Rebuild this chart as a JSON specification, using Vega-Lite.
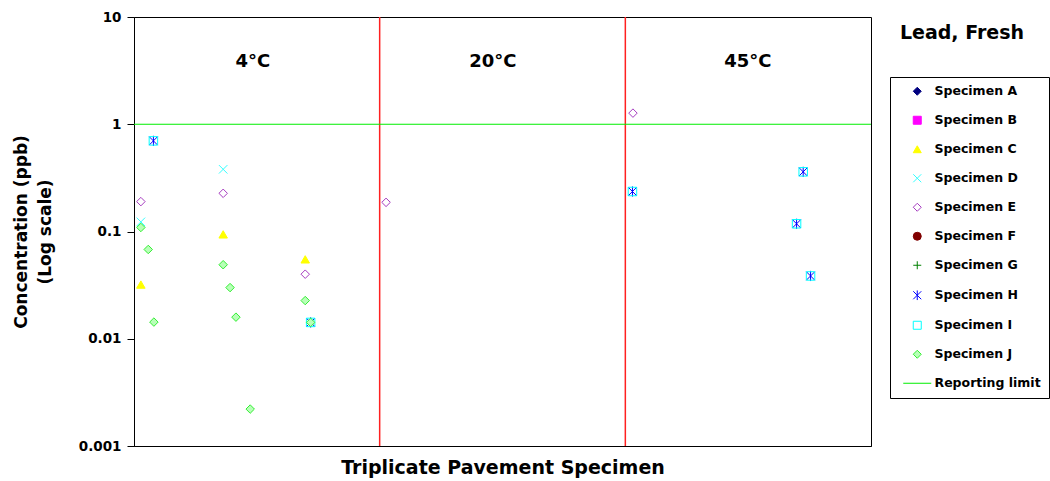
{
  "$schema": "https://vega.github.io/schema/vega-lite/v6.json",
  "width": 737,
  "height": 429,
  "autosize": "none",
  "padding": {"left": 134, "top": 17, "right": 179, "bottom": 35},
  "background": "white",
  "title": {
    "text": "Lead, Fresh",
    "anchor": "end",
    "frame": "group",
    "font": "DejaVu Sans",
    "fontWeight": "bold",
    "fontSize": 19,
    "color": "#000",
    "baseline": "alphabetic",
    "offset": 0,
    "dx": 153,
    "dy": 48
  },
  "config": {
    "font": "DejaVu Sans",
    "view": {"stroke": "#000", "strokeWidth": 1},
    "axis": {
      "grid": false,
      "domainColor": "#000",
      "tickColor": "#000",
      "labelFont": "DejaVu Sans",
      "labelFontWeight": "bold",
      "labelFontSize": 13.5,
      "labelColor": "#000",
      "titleFont": "DejaVu Sans",
      "titleFontWeight": "bold",
      "titleColor": "#000"
    }
  },
  "datasets": {
    "dividers": [{"x": 1}, {"x": 2}],
    "limit": [{"y": 1}],
    "temps": [
      {"x": 0.484, "y": 3.83, "label": "4°C"},
      {"x": 1.461, "y": 3.83, "label": "20°C"},
      {"x": 2.499, "y": 3.83, "label": "45°C"}
    ],
    "lead": [
      {"specimen": "Specimen C", "x": 0.363, "y": 0.094},
      {"specimen": "Specimen C", "x": 0.697, "y": 0.055},
      {"specimen": "Specimen C", "x": 0.028, "y": 0.032},
      {"specimen": "Specimen D", "x": 0.363, "y": 0.38},
      {"specimen": "Specimen D", "x": 0.028, "y": 0.123},
      {"specimen": "Specimen E", "x": 0.363, "y": 0.227},
      {"specimen": "Specimen E", "x": 0.028, "y": 0.19},
      {"specimen": "Specimen E", "x": 0.697, "y": 0.04},
      {"specimen": "Specimen E", "x": 1.026, "y": 0.187},
      {"specimen": "Specimen E", "x": 2.031, "y": 1.27},
      {"specimen": "Specimen H", "x": 0.079, "y": 0.7},
      {"specimen": "Specimen H", "x": 0.719, "y": 0.0142},
      {"specimen": "Specimen H", "x": 2.029, "y": 0.236},
      {"specimen": "Specimen H", "x": 2.724, "y": 0.36},
      {"specimen": "Specimen H", "x": 2.697, "y": 0.118},
      {"specimen": "Specimen H", "x": 2.754, "y": 0.0385},
      {"specimen": "Specimen I", "x": 0.079, "y": 0.7},
      {"specimen": "Specimen I", "x": 0.719, "y": 0.0142},
      {"specimen": "Specimen I", "x": 2.029, "y": 0.236},
      {"specimen": "Specimen I", "x": 2.724, "y": 0.36},
      {"specimen": "Specimen I", "x": 2.697, "y": 0.118},
      {"specimen": "Specimen I", "x": 2.754, "y": 0.0385},
      {"specimen": "Specimen J", "x": 0.028, "y": 0.109},
      {"specimen": "Specimen J", "x": 0.058, "y": 0.068},
      {"specimen": "Specimen J", "x": 0.363, "y": 0.049},
      {"specimen": "Specimen J", "x": 0.391, "y": 0.03},
      {"specimen": "Specimen J", "x": 0.697, "y": 0.0227},
      {"specimen": "Specimen J", "x": 0.081, "y": 0.0143},
      {"specimen": "Specimen J", "x": 0.415, "y": 0.0159},
      {"specimen": "Specimen J", "x": 0.719, "y": 0.0142},
      {"specimen": "Specimen J", "x": 0.473, "y": 0.00221}
    ]
  },
  "layer": [
    {
      "data": {"name": "dividers"},
      "mark": {"type": "rule", "color": "#ff2020", "strokeWidth": 1.5},
      "encoding": {
        "x": {
          "field": "x",
          "type": "quantitative",
          "scale": {"domain": [0, 3], "nice": false, "zero": false},
          "axis": {"title": "Triplicate Pavement Specimen", "labels": false, "ticks": false, "titleFontSize": 19, "titlePadding": 12}
        }
      }
    },
    {
      "data": {"name": "limit"},
      "mark": {"type": "rule", "color": "#00ee00", "strokeWidth": 1},
      "encoding": {
        "y": {
          "field": "y",
          "type": "quantitative",
          "scale": {"type": "log", "domain": [0.001, 10], "nice": false},
          "axis": {"title": ["Concentration (ppb)", "(Log scale)"], "values": [0.001, 0.01, 0.1, 1, 10], "format": "~g", "tickSize": 7, "labelPadding": 6, "titleFontSize": 17, "titleLineHeight": 24, "titlePadding": 24}
        }
      }
    },
    {
      "data": {"name": "lead"},
      "mark": {"type": "point", "opacity": 1, "strokeWidth": 1, "size": 72},
      "encoding": {
        "x": {
          "field": "x",
          "type": "quantitative",
          "scale": {"domain": [0, 3], "nice": false, "zero": false},
          "axis": {"title": "Triplicate Pavement Specimen", "labels": false, "ticks": false, "titleFontSize": 19, "titlePadding": 12}
        },
        "y": {
          "field": "y",
          "type": "quantitative",
          "scale": {"type": "log", "domain": [0.001, 10], "nice": false},
          "axis": {"title": ["Concentration (ppb)", "(Log scale)"], "values": [0.001, 0.01, 0.1, 1, 10], "format": "~g", "tickSize": 7, "labelPadding": 6, "titleFontSize": 17, "titleLineHeight": 24, "titlePadding": 24}
        },
        "shape": {
          "field": "specimen",
          "type": "nominal",
          "scale": {
            "domain": ["Specimen A", "Specimen B", "Specimen C", "Specimen D", "Specimen E", "Specimen F", "Specimen G", "Specimen H", "Specimen I", "Specimen J", "Reporting limit"],
            "range": ["diamond", "square", "triangle-up", "M-1,-1L1,1M-1,1L1,-1", "diamond", "circle", "M-1,0L1,0M0,-1L0,1", "M-1,-1L1,1M-1,1L1,-1M0,-1.2L0,1.2", "square", "diamond", "M-3.5,0L3.5,0"]
          },
          "legend": {"title": null, "orient": "none", "legendX": 756, "legendY": 60, "direction": "vertical", "strokeColor": "#000", "fillColor": "#fff", "padding": 8, "labelFont": "DejaVu Sans", "labelFontWeight": "bold", "labelFontSize": 12.5, "labelColor": "#000", "symbolSize": 64, "symbolStrokeWidth": 1, "rowPadding": 16, "labelOffset": 11, "symbolOffset": 13}
        },
        "stroke": {
          "field": "specimen",
          "type": "nominal",
          "scale": {
            "domain": ["Specimen A", "Specimen B", "Specimen C", "Specimen D", "Specimen E", "Specimen F", "Specimen G", "Specimen H", "Specimen I", "Specimen J", "Reporting limit"],
            "range": ["#000080", "#ff00ff", "#ffff00", "#33ffff", "#a63cc0", "#800000", "#008000", "#0000ff", "#00ffff", "#33ee33", "#00ee00"]
          },
          "legend": {"title": null, "orient": "none", "legendX": 756, "legendY": 60, "direction": "vertical", "strokeColor": "#000", "fillColor": "#fff", "padding": 8, "labelFont": "DejaVu Sans", "labelFontWeight": "bold", "labelFontSize": 12.5, "labelColor": "#000", "symbolSize": 64, "symbolStrokeWidth": 1, "rowPadding": 16, "labelOffset": 11, "symbolOffset": 13}
        },
        "fill": {
          "field": "specimen",
          "type": "nominal",
          "scale": {
            "domain": ["Specimen A", "Specimen B", "Specimen C", "Specimen D", "Specimen E", "Specimen F", "Specimen G", "Specimen H", "Specimen I", "Specimen J", "Reporting limit"],
            "range": ["#000080", "#ff00ff", "#ffff00", "transparent", "#ffffff", "#800000", "transparent", "transparent", "transparent", "#b8ffb8", "transparent"]
          },
          "legend": {"title": null, "orient": "none", "legendX": 756, "legendY": 60, "direction": "vertical", "strokeColor": "#000", "fillColor": "#fff", "padding": 8, "labelFont": "DejaVu Sans", "labelFontWeight": "bold", "labelFontSize": 12.5, "labelColor": "#000", "symbolSize": 64, "symbolStrokeWidth": 1, "rowPadding": 16, "labelOffset": 11, "symbolOffset": 13}
        }
      }
    },
    {
      "data": {"name": "temps"},
      "mark": {"type": "text", "font": "DejaVu Sans", "fontWeight": "bold", "fontSize": 18, "align": "center", "baseline": "middle", "color": "#000"},
      "encoding": {
        "x": {"field": "x", "type": "quantitative", "scale": {"domain": [0, 3], "nice": false, "zero": false}},
        "y": {"field": "y", "type": "quantitative", "scale": {"type": "log", "domain": [0.001, 10], "nice": false}},
        "text": {"field": "label"}
      }
    }
  ]
}
